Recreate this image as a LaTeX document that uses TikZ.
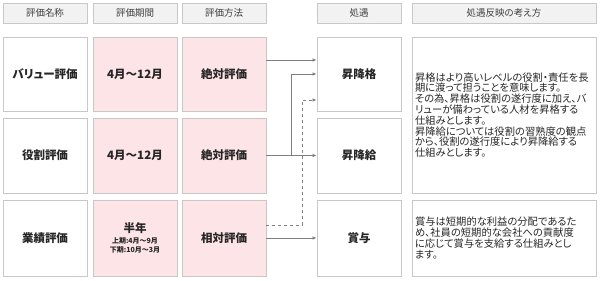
\documentclass[tikz,border=0pt]{standalone}
\usepackage{fontspec}
\setmainfont{Noto Sans CJK JP}[RawFeature=+palt]
\usetikzlibrary{arrows.meta}
\definecolor{cPink}{RGB}{253,228,230}
\definecolor{cHead}{RGB}{242,242,242}
\definecolor{cLine}{RGB}{200,200,200}
\definecolor{cArrow}{RGB}{127,127,127}
\definecolor{cText}{RGB}{64,64,64}

\begin{document}
\begin{tikzpicture}[x=1pt, y=-1pt,
    hd/.style={draw=cLine, fill=cHead, minimum height=20pt, inner sep=0pt, font=\fontsize{9.5}{11}\selectfont, text=cText},
    cell/.style={draw=cLine, line width=0.9pt, fill=white, minimum width=84pt, inner sep=0pt, align=center, font=\fontsize{11.5}{13}\selectfont\bfseries, text=black!85},
    pk/.style={cell, fill=cPink},
    txt/.style={draw=cLine, line width=0.9pt, fill=white, text width=178pt, inner xsep=3pt, inner ysep=0pt, align=left, font=\fontsize{10.3}{10.8}\selectfont, text=black!85},
    ar/.style={draw=cArrow, line width=1pt, -{Latex[length=4pt,width=3.5pt]}}]
  \useasboundingbox (0,0) rectangle (600,281);
  % headers
  \node[hd, minimum width=84pt]  (h1) at (45,13)  {評価名称};
  \node[hd, minimum width=84pt]  (h2) at (135,13) {評価期間};
  \node[hd, minimum width=84pt]  (h3) at (224,13) {評価方法};
  \node[hd, minimum width=84pt]  (h4) at (359,13) {処遇};
  \node[hd, minimum width=184pt] (h5) at (504,13) {処遇反映の考え方};
  % rows
  \node[cell, minimum height=74pt] (n1) at (45,74)    {バリュー評価};
  \node[pk,   minimum height=74pt] (p1) at (135,74)   {4月～12月};
  \node[pk,   minimum height=74pt] (m1) at (224,74)   {絶対評価};
  \node[cell, minimum height=74pt] (t1) at (359,74)   {昇降格};
  \node[cell, minimum height=75pt] (n2) at (45,155.5) {役割評価};
  \node[pk,   minimum height=75pt] (p2) at (135,155.5){4月～12月};
  \node[pk,   minimum height=75pt] (m2) at (224,155.5){絶対評価};
  \node[cell, minimum height=75pt] (t2) at (359,155.5){昇降給};
  \node[cell, minimum height=76pt] (n3) at (45,238)   {業績評価};
  \node[pk,   minimum height=76pt] (p3) at (135,238)  {半年\\[-2pt]{\fontsize{7}{8}\selectfont 上期:4月～9月}\\[-4pt]{\fontsize{7}{8}\selectfont 下期:10月～3月}};
  \node[pk,   minimum height=76pt] (m3) at (224,238)  {相対評価};
  \node[cell, minimum height=76pt] (t3) at (359,238)  {賞与};
  % descriptions
  \node[txt, minimum height=156pt] (d1) at (504,115) {昇格はより高いレベルの役割・責任を長\\期に渡って担うことを意味します。\\その為、昇格は役割の遂行度に加え、バ\\リューが備わっている人材を昇格する\\仕組みとします。\\昇降給については役割の習熟度の観点\\から、役割の遂行度により昇降給する\\仕組みとします。};
  \node[txt, minimum height=76pt] (d2) at (504,238) {賞与は短期的な利益の分配であるた\\め、社員の短期的な会社への貢献度\\に応じて賞与を支給する仕組みとし\\ます。};
  % connectors
  \draw[ar] ([yshift=14pt]m1.east) -- ([yshift=14pt]t1.west);
  \draw[ar] (m2.east) -- (t2.west);
  \draw[ar] (m2.east) -- ++(25,0) |- (t1.west);
  \draw[ar, dashed] ([yshift=13pt]m3.east) -- ++(36,0) |- ([yshift=-26pt]t1.west);
  \draw[ar] (m3.east) -- (t3.west);
\end{tikzpicture}
\end{document}
